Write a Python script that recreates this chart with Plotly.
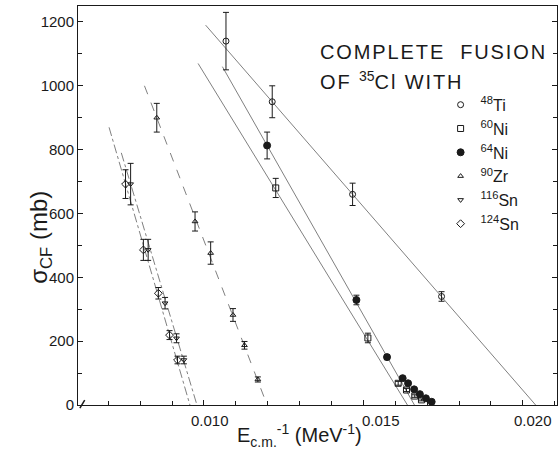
import plotly.graph_objects as go

# ---------------- data ----------------
ti48_x = [0.01069, 0.01214, 0.01466, 0.01745]
ti48_y = [1140, 950, 660, 340]
ti48_e = [90, 50, 35, 15]

ni60_x = [0.01225, 0.01514, 0.01609, 0.01635, 0.01661, 0.01682]
ni60_y = [680, 210, 68, 47, 28, 16]
ni60_e = [30, 15, 6, 5, 4, 3]

ni64_x = [0.01198, 0.01478, 0.01574, 0.01623, 0.01640, 0.01659, 0.01677, 0.01696, 0.01714]
ni64_y = [813, 329, 150, 84, 68, 49, 34, 21, 10]
ni64_e = [42, 15, 8, 6, 5, 4, 3, 2, 2]

zr90_x = [0.00852, 0.00972, 0.01021, 0.01091, 0.01127, 0.01169]
zr90_y = [900, 575, 476, 282, 187, 80]
zr90_e = [45, 30, 35, 20, 12, 8]

sn116_x = [0.00770, 0.00825, 0.00878, 0.00914, 0.00937]
sn116_y = [692, 486, 319, 209, 141]
sn116_e = [65, 33, 18, 14, 12]

sn124_x = [0.00754, 0.00810, 0.00857, 0.00892, 0.00917]
sn124_y = [692, 486, 350, 219, 141]
sn124_e = [45, 33, 18, 14, 12]

# straight-line fits: x-intercept (MeV^-1), slope (mb per MeV^-1), upper end (mb)
fit_names = ["48Ti", "60Ni", "64Ni", "90Zr", "116Sn", "124Sn"]
fit_x0 = [0.0204, 0.01638, 0.0166, 0.01198, 0.00978, 0.00956]
fit_slope = [115000, 163000, 176000, 260000, 333000, 343000]
fit_top = [1190, 1070, 1060, 1000, 790, 870]

x_ticks = [0.010, 0.015, 0.020]
x_tick_text = ["0.010", "0.015", "0.020"]
y_ticks = [0, 200, 400, 600, 800, 1000, 1200]

# ---------------- figure ----------------
fig = go.Figure()
INK = "#1a1a1a"
LINEC = "#606060"
dash_map = {"48Ti": "solid", "60Ni": "solid", "64Ni": "solid",
            "90Zr": "dash", "116Sn": "dashdot", "124Sn": "dashdot"}

for name, x0, m, top in zip(fit_names, fit_x0, fit_slope, fit_top):
    fig.add_trace(go.Scatter(
        x=[x0 - top / m, x0], y=[top, 0], mode="lines",
        line=dict(color=LINEC, width=0.8, dash=dash_map[name]),
        showlegend=False, hoverinfo="skip"))

series = [
    ("<sup>48</sup>Ti", ti48_x, ti48_y, ti48_e, "circle-open", 6),
    ("<sup>60</sup>Ni", ni60_x, ni60_y, ni60_e, "square-open", 6),
    ("<sup>64</sup>Ni", ni64_x, ni64_y, ni64_e, "circle", 7),
    ("<sup>90</sup>Zr", zr90_x, zr90_y, zr90_e, "triangle-up-open", 5),
    ("<sup>116</sup>Sn", sn116_x, sn116_y, sn116_e, "triangle-down-open", 5),
    ("<sup>124</sup>Sn", sn124_x, sn124_y, sn124_e, "diamond-open", 6),
]
for label, xs, ys, es, sym, sz in series:
    fig.add_trace(go.Scatter(
        x=xs, y=ys, mode="markers", name=label,
        marker=dict(symbol=sym, size=sz, color=INK, line=dict(color=INK, width=1)),
        error_y=dict(type="data", array=es, visible=True, color=INK, thickness=1, width=3)))

FONT = "Liberation Sans, Arial, sans-serif"

fig.update_layout(
    width=558, height=451,
    margin=dict(l=78, r=1, t=6, b=46),
    paper_bgcolor="white", plot_bgcolor="white",
    font=dict(family=FONT, color=INK),
    showlegend=True,
    legend=dict(x=0.757, y=0.795, xanchor="left", yanchor="top",
                bgcolor="rgba(0,0,0,0)", font=dict(size=16, family=FONT, color=INK),
                itemwidth=30, tracegroupgap=0),
    xaxis=dict(range=[0.00605, 0.02107], showgrid=False, zeroline=False,
               showline=True, linecolor=INK, linewidth=1, mirror=True,
               tickvals=x_ticks, ticks="inside", ticklen=5, tickcolor=INK,
               showticklabels=False,
               minor=dict(dtick=0.001, tick0=0.006, ticks="inside", ticklen=4, tickcolor=INK)),
    yaxis=dict(range=[0, 1250], showgrid=False, zeroline=False,
               showline=True, linecolor=INK, linewidth=1, mirror="ticks",
               tickvals=y_ticks, ticks="inside", ticklen=5, tickcolor=INK,
               tickfont=dict(size=15, family=FONT, color=INK),
               minor=dict(dtick=100, ticks="inside", ticklen=4, tickcolor=INK)),
)

# x tick labels (slightly offset to the right as in the original)
for v, t, dx in zip(x_ticks, x_tick_text, [6, 18, 10]):
    fig.add_annotation(x=v, y=0, xref="x", yref="paper", text=t, showarrow=False,
                       yanchor="top", yshift=-5, xshift=dx,
                       font=dict(size=15, family=FONT, color=INK))

# axis titles
fig.add_annotation(x=-0.115, y=0.42, xref="paper", yref="paper",
                   text="σ<sub>CF</sub> (mb)", textangle=-90, showarrow=False,
                   font=dict(size=24, family=FONT, color=INK))
fig.add_annotation(x=0.463, y=-0.118, xref="paper", yref="paper",
                   text="E<sub>c.m.</sub><sup>-1</sup> (MeV<sup>-1</sup>)", showarrow=False,
                   yanchor="bottom", font=dict(size=20, family=FONT, color=INK))

# title lettering
SP = '<span style="letter-spacing:1.9px">'
fig.add_annotation(x=0.5, y=0.852, xref="paper", yref="paper", xanchor="left", yanchor="bottom",
                   text=SP + "COMPLETE  FUSION</span>", showarrow=False,
                   font=dict(size=20, family=FONT, color=INK))
fig.add_annotation(x=0.5, y=0.778, xref="paper", yref="paper", xanchor="left", yanchor="bottom",
                   text=SP + "OF </span><sup>35</sup>" + SP + "Cl WITH</span>", showarrow=False,
                   font=dict(size=20, family=FONT, color=INK))

# axis break mark at origin
fig.add_shape(type="line", xref="paper", yref="paper", x0=0.004, y0=-0.008, x1=0.014, y1=0.012,
              line=dict(color=INK, width=1.5))

fig.write_html("out.html")
